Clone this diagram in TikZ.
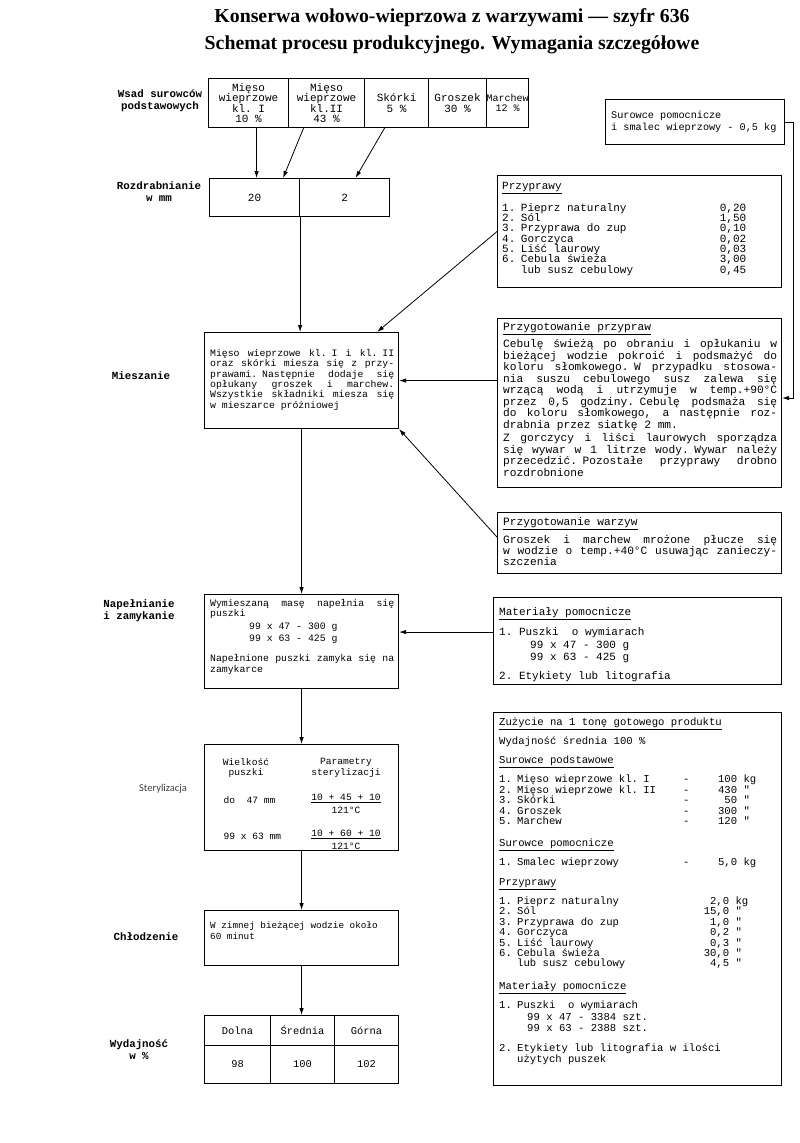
\documentclass[tikz,border=0pt]{standalone}
\usepackage{fontspec}
\setmainfont{Liberation Serif}
\setmonofont{Liberation Mono}
\newfontfamily\sidefont{Carlito}
\usetikzlibrary{positioning, arrows.meta, calc}

\newcommand{\tw}[2]{\ttfamily\fontsize{#1}{#2}\selectfont}
\newcommand{\setsp}{\spaceskip=0.6em plus 1em minus 0.05em\relax}
\newcommand{\jl}[1]{\makebox[\hsize][s]{#1}\\}
\newcommand{\ind}{\phantom{1. }}
\newcommand{\tp}[2]{\makebox[244pt][l]{#1}\llap{#2}}
\newcommand{\zr}[4]{\makebox[184pt][l]{#1}\makebox[18pt][l]{#2}\makebox[36pt][r]{#3}\ #4}
\newcommand{\zp}[3]{\makebox[230pt][l]{#1}\llap{#2}\ #3}

\begin{document}
\begin{tikzpicture}[x=1pt, y=-1pt,
    box/.style={draw, line width=1.1pt, inner sep=0pt, anchor=north west},
    cell/.style={box, font=\tw{11}{10.6}, align=center, execute at begin node=\setsp},
    txt/.style={anchor=north west, inner sep=0pt, font=\tw{9.3}{10.4}, align=left, execute at begin node=\setsp},
    stxt/.style={font=\tw{9.6}{10.6}, align=center, execute at begin node=\setsp},
    lbl/.style={font=\ttfamily\bfseries\fontsize{10.8}{12}\selectfont, align=center, execute at begin node=\setsp},
    arr/.style={-{Latex[length=7pt,width=4.5pt]}, line width=0.8pt}
  ]
  \useasboundingbox (0,0) rectangle (800,1143);

  % Title
  \node[font=\fontsize{19.8}{22}\selectfont\bfseries] (title1) at (452,18)
    {Konserwa wołowo-wieprzowa z warzywami --- szyfr 636};
  \node[font=\fontsize{19.8}{22}\selectfont\bfseries] (title2) at (452,45)
    {Schemat procesu produkcyjnego. Wymagania szczegółowe};

  % Side labels
  \node[lbl] (lwsad)  at (160,101)  {Wsad surowców\\podstawowych};
  \node[lbl] (lrozdr) at (159,192)  {Rozdrabnianie\\w mm};
  \node[lbl] (lmiesz) at (141,376)  {Mieszanie};
  \node[lbl] (lnapel) at (139,611)  {Napełnianie\\i zamykanie};
  \node[font=\sidefont\fontsize{10.5}{12}\selectfont, text=black!75] (lster) at (163,789) {Sterylizacja};
  \node[lbl] (lchlod) at (146,937)  {Chłodzenie};
  \node[lbl] (lwyd)   at (139,1050) {Wydajność\\w \%};

  % Row: raw materials
  \node[cell, minimum width=80, minimum height=49] (meso1)   at (208,78) {Mięso\\wieprzowe\\kl. I\\10 \%};
  \node[cell, minimum width=76, minimum height=49] (meso2)   at (288,78) {Mięso\\wieprzowe\\kl.II\\43 \%};
  \node[cell, minimum width=64, minimum height=49] (skorki)  at (364,78) {Skórki\\5 \%};
  \node[cell, minimum width=58, minimum height=49] (groszek) at (428,78) {Groszek\\30 \%};
  \node[cell, minimum width=42, minimum height=49, font=\tw{10}{10.6}] (marchew) at (486,78) {Marchew\\12 \%};

  % Grinding
  \node[cell, minimum width=90, minimum height=38] (r20) at (209,178) {20};
  \node[cell, minimum width=90, minimum height=38] (r2)  at (299,178) {2};

  % Mixing
  \node[box, minimum width=194, minimum height=96] (mix) at (204,332) {};
  \node[txt, text width=184, font=\tw{9.8}{10.4}] (tmix) at (210,349)
    {\jl{Mięso wieprzowe kl. I i kl. II}\jl{oraz skórki miesza się z przy-}\jl{prawami. Następnie dodaje się}\jl{opłukany groszek i marchew.}\jl{Wszystkie składniki miesza się}w mieszarce próżniowej};

  % Filling
  \node[box, minimum width=194, minimum height=94] (fill) at (204,594) {};
  \node[txt, text width=184, font=\tw{9.8}{10.4}] (tfill) at (210,599)
    {\jl{Wymieszaną masę napełnia się}puszki\\[2.6pt]
     \hspace*{39pt}99 x 47 - 300 g\\[1.6pt]
     \hspace*{39pt}99 x 63 - 425 g\\[9.6pt]
     \jl{Napełnione puszki zamyka się na}zamykarce};

  % Sterilisation
  \node[box, minimum width=194, minimum height=106] (ster) at (204,744) {};
  \node[stxt] (wielk)  at (246,768) {Wielkość\\puszki};
  \node[stxt] (param)  at (346,768) {Parametry\\sterylizacji};
  \node[stxt, anchor=west] (do47) at (220,800) {do\ \ 47 mm};
  \node[stxt] (frac47) at (346,804) {\underline{10 + 45 + 10}\\[3pt]121°C};
  \node[stxt, anchor=west] (d63)  at (220,836) {99 x 63 mm};
  \node[stxt] (frac63) at (346,840) {\underline{10 + 60 + 10}\\[3pt]121°C};

  % Cooling
  \node[box, minimum width=194, minimum height=55] (cool) at (204,910) {};
  \node[txt] (tcool) at (210,922) {W zimnej bieżącej wodzie około\\60 minut};

  % Yield
  \node[cell, minimum width=66, minimum height=30, font=\tw{10.4}{11}] (dolna) at (204,1015) {Dolna};
  \node[cell, minimum width=64, minimum height=30, font=\tw{10.4}{11}] (sred)  at (270,1015) {Średnia};
  \node[cell, minimum width=64, minimum height=30, font=\tw{10.4}{11}] (gorna) at (334,1015) {Górna};
  \node[cell, minimum width=66, minimum height=38, font=\tw{10.4}{11}] (v98)   at (204,1045) {98};
  \node[cell, minimum width=64, minimum height=38, font=\tw{10.4}{11}] (v100)  at (270,1045) {100};
  \node[cell, minimum width=64, minimum height=38, font=\tw{10.4}{11}] (v102)  at (334,1045) {102};

  % Right column
  \node[box, minimum width=179, minimum height=45] (pom) at (605,99) {};
  \node[txt, font=\tw{10.2}{11.5}] (tpom) at (611,111) {Surowce pomocnicze\\i smalec wieprzowy - 0,5 kg};

  \node[box, minimum width=284, minimum height=112] (przyprawy) at (497,175) {};
  \node[txt, text width=250, font=\tw{11}{10.3}] (tprzyprawy) at (502,182)
    {\underline{Przyprawy}\\[8.6pt]
     \tp{1. Pieprz naturalny}{0,20}\\
     \tp{2. Sól}{1,50}\\
     \tp{3. Przyprawa do zup}{0,10}\\
     \tp{4. Gorczyca}{0,02}\\
     \tp{5. Liść laurowy}{0,03}\\
     \tp{6. Cebula świeża}{3,00}\\
     \tp{\ind lub susz cebulowy}{0,45}};

  \node[box, minimum width=284, minimum height=169] (prep) at (497,318) {};
  \node[txt, text width=274, font=\tw{11.2}{11.5}] (tprep) at (503,322)
    {\underline{Przygotowanie przypraw}\\[4pt]
     \jl{Cebulę świeżą po obraniu i opłukaniu w}
     \jl{bieżącej wodzie pokroić i podsmażyć do}
     \jl{koloru słomkowego. W przypadku stosowa-}
     \jl{nia suszu cebulowego susz zalewa się}
     \jl{wrzącą wodą i utrzymuje w temp.+90°C}
     \jl{przez 0,5 godziny. Cebulę podsmaża się}
     \jl{do koloru słomkowego, a następnie roz-}
     drabnia przez siatkę 2 mm.\\[2pt]
     \jl{Z gorczycy i liści laurowych sporządza}
     \jl{się wywar w 1 litrze wody. Wywar należy}
     \jl{przecedzić. Pozostałe przyprawy drobno}
     rozdrobnione};

  \node[box, minimum width=284, minimum height=61] (warzyw) at (497,512) {};
  \node[txt, text width=274, font=\tw{11.2}{11}] (twarzyw) at (503,517)
    {\underline{Przygotowanie warzyw}\\[5pt]
     \jl{Groszek i marchew mrożone płucze się}
     \jl{w wodzie o temp.+40°C usuwając zanieczy-}
     szczenia};

  \node[box, minimum width=288, minimum height=87] (mat) at (493,597) {};
  \node[txt, font=\tw{11}{11}] (tmat) at (499,607)
    {\underline{Materiały pomocnicze}\\[7pt]
     1. Puszki\ \ o wymiarach\\[2pt]
     \hspace*{31pt}99 x 47 - 300 g\\[1pt]
     \hspace*{31pt}99 x 63 - 425 g\\[8pt]
     2. Etykiety lub litografia};

  \node[box, minimum width=288, minimum height=373] (zuz) at (493,712) {};
  \node[txt, text width=282, font=\tw{10.6}{10.4}] (tzuz) at (499,718)
    {\underline{Zużycie na 1 tonę gotowego produktu}\\[5.6pt]
     Wydajność średnia 100 \%\\[8.6pt]
     \underline{Surowce podstawowe}\\[6.6pt]
     \zr{1. Mięso wieprzowe kl. I}{-}{100}{kg}\\
     \zr{2. Mięso wieprzowe kl. II}{-}{430}{"}\\
     \zr{3. Skórki}{-}{50}{"}\\
     \zr{4. Groszek}{-}{300}{"}\\
     \zr{5. Marchew}{-}{120}{"}\\[11.6pt]
     \underline{Surowce pomocnicze}\\[6.6pt]
     \zr{1. Smalec wieprzowy}{-}{5,0}{kg}\\[9.6pt]
     \underline{Przyprawy}\\[5.6pt]
     \zp{1. Pieprz naturalny}{2,0}{kg}\\
     \zp{2. Sól}{15,0}{"}\\
     \zp{3. Przyprawa do zup}{1,0}{"}\\
     \zp{4. Gorczyca}{0,2}{"}\\
     \zp{5. Liść laurowy}{0,3}{"}\\
     \zp{6. Cebula świeża}{30,0}{"}\\
     \zp{\ind lub susz cebulowy}{4,5}{"}\\[12.6pt]
     \underline{Materiały pomocnicze}\\[5.6pt]
     1. Puszki\ \ o wymiarach\\[1.6pt]
     \hspace*{28pt}99 x 47 - 3384 szt.\\[1pt]
     \hspace*{28pt}99 x 63 - 2388 szt.\\[9.6pt]
     2. Etykiety lub litografia w ilości\\
     \ind użytych puszek};

  % Arrows: raw materials to grinding
  \draw[arr] ([xshift=8pt]meso1.south) -- ([xshift=2pt]r20.north);
  \draw[arr] ([xshift=-23pt]meso2.south) -- ([xshift=-17pt]r20.north east);
  \draw[arr] ([xshift=-12pt]skorki.south) -- ([xshift=11pt]r2.north);

  % Arrows into mixing
  \draw[arr] (r20.south east) -- (r20.south east |- mix.north);
  \draw[arr] (przyprawy.west) -- ([xshift=-22pt]mix.north east);
  \draw[arr] (mix.east -| prep.west) -- (mix.east);
  \draw[arr] ([yshift=6pt]warzyw.west) -- (mix.south east);
  \draw[arr] (pom.east) -- ++(8,0) |- ([yshift=5pt]prep.east);

  % Main line down
  \draw[arr] (mix.south) -- (fill.north);
  \draw[arr] ([yshift=9pt]mat.west) coordinate (matin) -- (matin -| fill.east);
  \draw[arr] (fill.south) -- (ster.north);
  \draw[arr] (ster.south) -- (cool.north);
  \draw[arr] (cool.south) -- (cool.south |- sred.north);
\end{tikzpicture}
\end{document}
